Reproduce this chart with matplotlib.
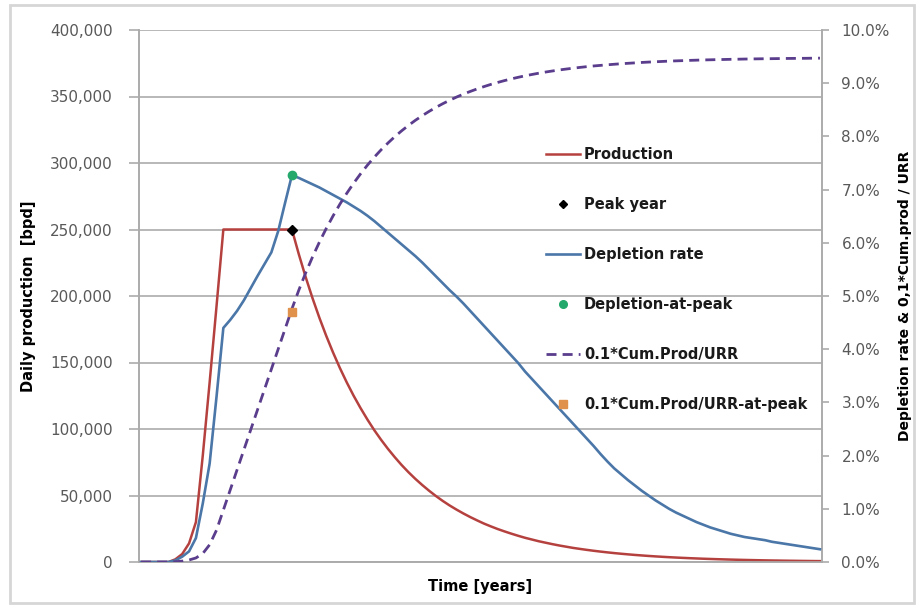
import matplotlib
matplotlib.use("Agg")
import matplotlib.pyplot as plt
from matplotlib.lines import Line2D
from matplotlib.patches import Rectangle
from matplotlib.ticker import FuncFormatter, MultipleLocator

# time axis (years, no labels shown)
years = list(range(100))

# daily production [bpd]
production = [0, 0, 0, 0, 0,
              2000, 6000, 14000, 30000, 80000, 135000, 192000,
              250000, 250000, 250000, 250000, 250000, 250000, 250000, 250000, 250000, 250000, 250000,
              231500, 214300, 198400, 183700, 170100, 157500, 145800, 135000, 125000, 115800,
              107200, 99200, 91900, 85100, 78800, 72900, 67500, 62500, 57900, 53600,
              49600, 45900, 42500, 39400, 36500, 33800, 31300, 28900, 26800, 24800,
              23000, 21300, 19700, 18200, 16900, 15600, 14500, 13400, 12400, 11500,
              10600, 9850, 9120, 8440, 7820, 7240, 6700, 6210, 5750, 5320,
              4930, 4560, 4220, 3910, 3620, 3350, 3100, 2870, 2660, 2460,
              2280, 2110, 1960, 1810, 1680, 1550, 1440, 1330, 1230, 1140,
              1060, 980, 910, 840, 780, 720, 670]

# depletion rate [%]
depletion = [0, 0, 0, 0, 0,
             0.03, 0.10, 0.20, 0.45, 1.10, 1.85, 3.10,
             4.40, 4.55, 4.72, 4.92, 5.15, 5.38, 5.60, 5.82, 6.22, 6.75, 7.27,
             7.22, 7.16, 7.10, 7.04, 6.97, 6.90, 6.83, 6.76, 6.68, 6.60,
             6.51, 6.41, 6.30, 6.19, 6.08, 5.97, 5.86, 5.75, 5.63, 5.50,
             5.37, 5.24, 5.11, 4.99, 4.86, 4.72, 4.58, 4.44, 4.30, 4.16,
             4.02, 3.88, 3.74, 3.58, 3.44, 3.30, 3.16, 3.02, 2.88, 2.74,
             2.60, 2.46, 2.32, 2.18,
             2.03, 1.89, 1.76, 1.65, 1.54, 1.44, 1.34, 1.25, 1.16, 1.08,
             1.00, 0.93, 0.87, 0.81, 0.75, 0.70, 0.65, 0.61, 0.57, 0.53,
             0.50, 0.47, 0.45, 0.43, 0.41, 0.38, 0.36, 0.34, 0.32, 0.30,
             0.28, 0.26, 0.24]

# 0.1*Cum.Prod/URR [%]
cum_urr = [0, 0, 0, 0, 0,
           0.005, 0.017, 0.038, 0.076, 0.159, 0.325, 0.598, 0.976, 1.354, 1.732,
           2.110, 2.489, 2.867, 3.245, 3.623, 4.002, 4.380, 4.758, 5.108, 5.433,
           5.733, 6.011, 6.268, 6.506, 6.727, 6.931, 7.120, 7.295, 7.458, 7.608,
           7.747, 7.875, 7.995, 8.105, 8.207, 8.302, 8.389, 8.470, 8.545, 8.615,
           8.679, 8.739, 8.794, 8.845, 8.892, 8.936, 8.977, 9.014, 9.049, 9.081,
           9.111, 9.139, 9.164, 9.188, 9.210, 9.230, 9.249, 9.266, 9.282, 9.297,
           9.311, 9.324, 9.335, 9.346, 9.356, 9.366, 9.374, 9.382, 9.390, 9.397,
           9.403, 9.409, 9.415, 9.420, 9.424, 9.429, 9.433, 9.437, 9.440, 9.443,
           9.446, 9.449, 9.451, 9.454, 9.456, 9.458, 9.460, 9.461, 9.463, 9.465,
           9.466, 9.467, 9.468, 9.470, 9.471]

# peak markers
peak_year = [22]
peak_prod = [250000]
peak_depl = [7.27]
peak_cum = [4.70]

c_red = "#b5413f"
c_blue = "#4a76a8"
c_purple = "#5a3d8c"
c_green = "#25a86b"
c_orange = "#e0924c"
c_grid = "#ababab"
c_tick = "#595959"

fig = plt.figure(figsize=(9.2, 6.07), dpi=100)
fig.add_artist(Rectangle((10 / 920, 4 / 607), 904 / 920, 598 / 607, transform=fig.transFigure,
                         fill=False, edgecolor="#d6d6d6", linewidth=2))

ax = fig.add_axes([139 / 920, 1 - 562 / 607, 683 / 920, 532 / 607])
ax2 = ax.twinx()

ax.plot(years, production, color=c_red, lw=1.8, zorder=3)
ax.plot(peak_year, peak_prod, ls="none", marker="D", ms=5.5, color="black", zorder=4)

ax2.plot(years, depletion, color=c_blue, lw=1.9, zorder=3)
ax2.plot(years, cum_urr, color=c_purple, lw=2, dashes=(3.6, 2.2), zorder=3)
ax2.plot(peak_year, peak_depl, ls="none", marker="o", ms=6, color=c_green, zorder=4)
ax2.plot(peak_year, peak_cum, ls="none", marker="s", ms=6, color=c_orange, zorder=4)

ax.set_xlim(-0.3, 99.3)
ax.set_ylim(0, 400000)
ax2.set_ylim(0, 10)
ax.yaxis.set_major_locator(MultipleLocator(50000))
ax2.yaxis.set_major_locator(MultipleLocator(1))
ax.yaxis.set_major_formatter(FuncFormatter(lambda v, p: f"{int(v):,}"))
ax2.yaxis.set_major_formatter(FuncFormatter(lambda v, p: f"{v:.1f}%"))

ax.grid(axis="y", color=c_grid, lw=1.2)
ax.set_axisbelow(True)
ax.set_xticks([])
for a in [ax, ax2]:
    a.spines["top"].set_visible(False)
    for s in ["left", "right", "bottom"]:
        a.spines[s].set_color(c_grid)
        a.spines[s].set_linewidth(1.2)
ax.tick_params(axis="y", length=7, width=1.2, color=c_grid, labelcolor=c_tick, labelsize=11, pad=12)
ax2.tick_params(axis="y", length=5, width=1.2, color=c_grid, labelcolor=c_tick, labelsize=11, pad=9)

ax.set_ylabel("Daily production  [bpd]", fontsize=10.5, fontweight="bold", labelpad=10)
ax2.set_ylabel("Depletion rate & 0,1*Cum.prod / URR", fontsize=10, fontweight="bold", labelpad=6)
ax.set_xlabel("Time [years]", fontsize=10.5, fontweight="bold", labelpad=12)

handles = [
    Line2D([], [], color=c_red, lw=1.8),
    Line2D([], [], ls="none", marker="D", ms=4.5, color="black"),
    Line2D([], [], color=c_blue, lw=1.9),
    Line2D([], [], ls="none", marker="o", ms=5.5, color=c_green),
    Line2D([], [], color=c_purple, lw=2, dashes=(3.6, 2.2)),
    Line2D([], [], ls="none", marker="s", ms=5.5, color=c_orange),
]
labels = ["Production", "Peak year", "Depletion rate", "Depletion-at-peak",
          "0.1*Cum.Prod/URR", "0.1*Cum.Prod/URR-at-peak"]
leg = ax2.legend(handles, labels, loc="upper left", bbox_to_anchor=(546 / 920, 1 - 147 / 607),
                 bbox_transform=fig.transFigure, frameon=False, borderpad=0, borderaxespad=0,
                 handlelength=2.3, handletextpad=0.3, labelspacing=2.4,
                 prop={"weight": "bold", "size": 10.5})
for t in leg.get_texts():
    t.set_color("#1a1a1a")

fig.savefig("out.png", dpi=100)
